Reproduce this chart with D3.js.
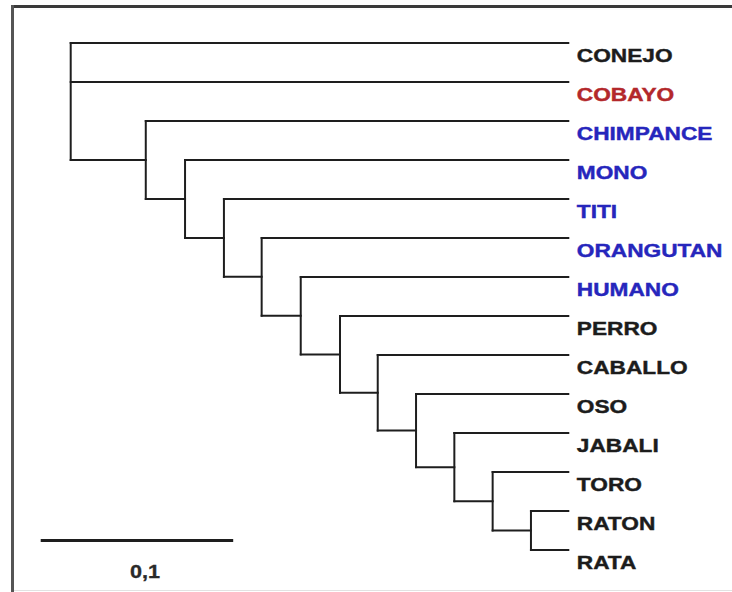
<!DOCTYPE html>
<html>
<head>
<meta charset="utf-8">
<script src="https://cdn.jsdelivr.net/npm/d3@7"></script>
<style>
  body { margin: 0; background: #fff; }
  .label { font-family: "Liberation Sans", Arial, sans-serif; font-weight: bold; font-size: 18px; }
</style>
</head>
<body>
<div id="chart"></div>
<script>
// Leaves, top to bottom
const taxa = ["CONEJO", "COBAYO", "CHIMPANCE", "MONO", "TITI", "ORANGUTAN", "HUMANO",
  "PERRO", "CABALLO", "OSO", "JABALI", "TORO", "RATON", "RATA"];
const taxonGroup = ["otro", "roedor", "primate", "primate", "primate", "primate", "primate",
  "otro", "otro", "otro", "otro", "otro", "otro", "otro"];

// Internal nodes: children (leaf index or 14 + merge index) and height above the tips
const mergeChildren = [[12, 13], [11, 14], [10, 15], [9, 16], [8, 17], [7, 18],
  [6, 19], [5, 20], [4, 21], [3, 22], [2, 23], [0, 1, 24]];
const mergeHeights = [0.0194, 0.0393, 0.0592, 0.0791, 0.0990, 0.1186,
  0.1390, 0.1593, 0.1789, 0.1991, 0.2195, 0.2585];

const scaleBarValue = 0.1;
const scaleBarLabel = "0,1";

const groupColor = { otro: "#1c1c1c", roedor: "#b3282b", primate: "#2626bc" };

// Build nested tree from the merge list
function buildNode(id) {
  if (id < taxa.length) return { name: taxa[id], index: id, height: 0 };
  const m = id - taxa.length;
  return { height: mergeHeights[m], children: mergeChildren[m].map(buildNode) };
}
const root = d3.hierarchy(buildNode(taxa.length + mergeChildren.length - 1));

const width = 732, height = 592;
const svg = d3.select("#chart").append("svg")
  .attr("width", width)
  .attr("height", height);

// frame
svg.append("line").attr("x1", 11).attr("x2", width).attr("y1", 6.5).attr("y2", 6.5)
  .attr("stroke", "#3a3a3a").attr("stroke-width", 3);
svg.append("line").attr("x1", 12.5).attr("x2", 12.5).attr("y1", 5).attr("y2", height)
  .attr("stroke", "#555").attr("stroke-width", 3);
svg.append("line").attr("x1", 14).attr("x2", width).attr("y1", 590.5).attr("y2", 590.5)
  .attr("stroke", "#e2e2e2").attr("stroke-width", 1);

const x = d3.scaleLinear().domain([root.data.height, 0]).range([70.7, 568.3]);
const y = d3.scaleLinear().domain([0, taxa.length - 1]).range([43, 550]);

// y position: leaves evenly spaced, internal nodes between first and last child
root.eachAfter((d) => {
  if (!d.children) d.py = y(d.data.index);
  else d.py = (d.children[0].py + d.children[d.children.length - 1].py) / 2;
  d.px = x(d.data.height);
});

const g = svg.append("g")
  .attr("fill", "none")
  .attr("stroke", "#1e1e1e")
  .attr("stroke-width", 2)
  .attr("stroke-linecap", "square");

// horizontal branches
g.selectAll(".hbranch")
  .data(root.descendants().filter((d) => d.parent))
  .enter()
  .append("line")
  .attr("class", "hbranch")
  .attr("x1", (d) => d.parent.px)
  .attr("x2", (d) => d.px)
  .attr("y1", (d) => d.py)
  .attr("y2", (d) => d.py);

// vertical connectors
g.selectAll(".vbranch")
  .data(root.descendants().filter((d) => d.children))
  .enter()
  .append("line")
  .attr("class", "vbranch")
  .attr("x1", (d) => d.px)
  .attr("x2", (d) => d.px)
  .attr("y1", (d) => d.children[0].py)
  .attr("y2", (d) => d.children[d.children.length - 1].py);

// leaf labels (slightly stretched, as in the original)
svg.selectAll(".leaf")
  .data(root.leaves())
  .enter()
  .append("text")
  .attr("class", "label leaf")
  .attr("transform", (d) => `translate(${d.px + 8.5},${d.py + 18.5}) scale(1.26,1)`)
  .attr("fill", (d) => groupColor[taxonGroup[d.data.index]])
  .attr("stroke", (d) => groupColor[taxonGroup[d.data.index]])
  .attr("stroke-width", 0.4)
  .text((d) => d.data.name);

// scale bar
const barLen = x(0) - x(scaleBarValue);
const barX = 40.7, barY = 540.5;
svg.append("line")
  .attr("x1", barX).attr("x2", barX + barLen)
  .attr("y1", barY).attr("y2", barY)
  .attr("stroke", "#1e1e1e").attr("stroke-width", 3);
svg.append("text")
  .attr("class", "label")
  .attr("fill", "#2a2a2a")
  .attr("stroke", "#2a2a2a")
  .attr("stroke-width", 0.3)
  .attr("text-anchor", "middle")
  .attr("transform", `translate(${barX + barLen / 2 + 8},${barY + 37.5}) scale(1.2,1)`)
  .text(scaleBarLabel);
</script>
</body>
</html>
